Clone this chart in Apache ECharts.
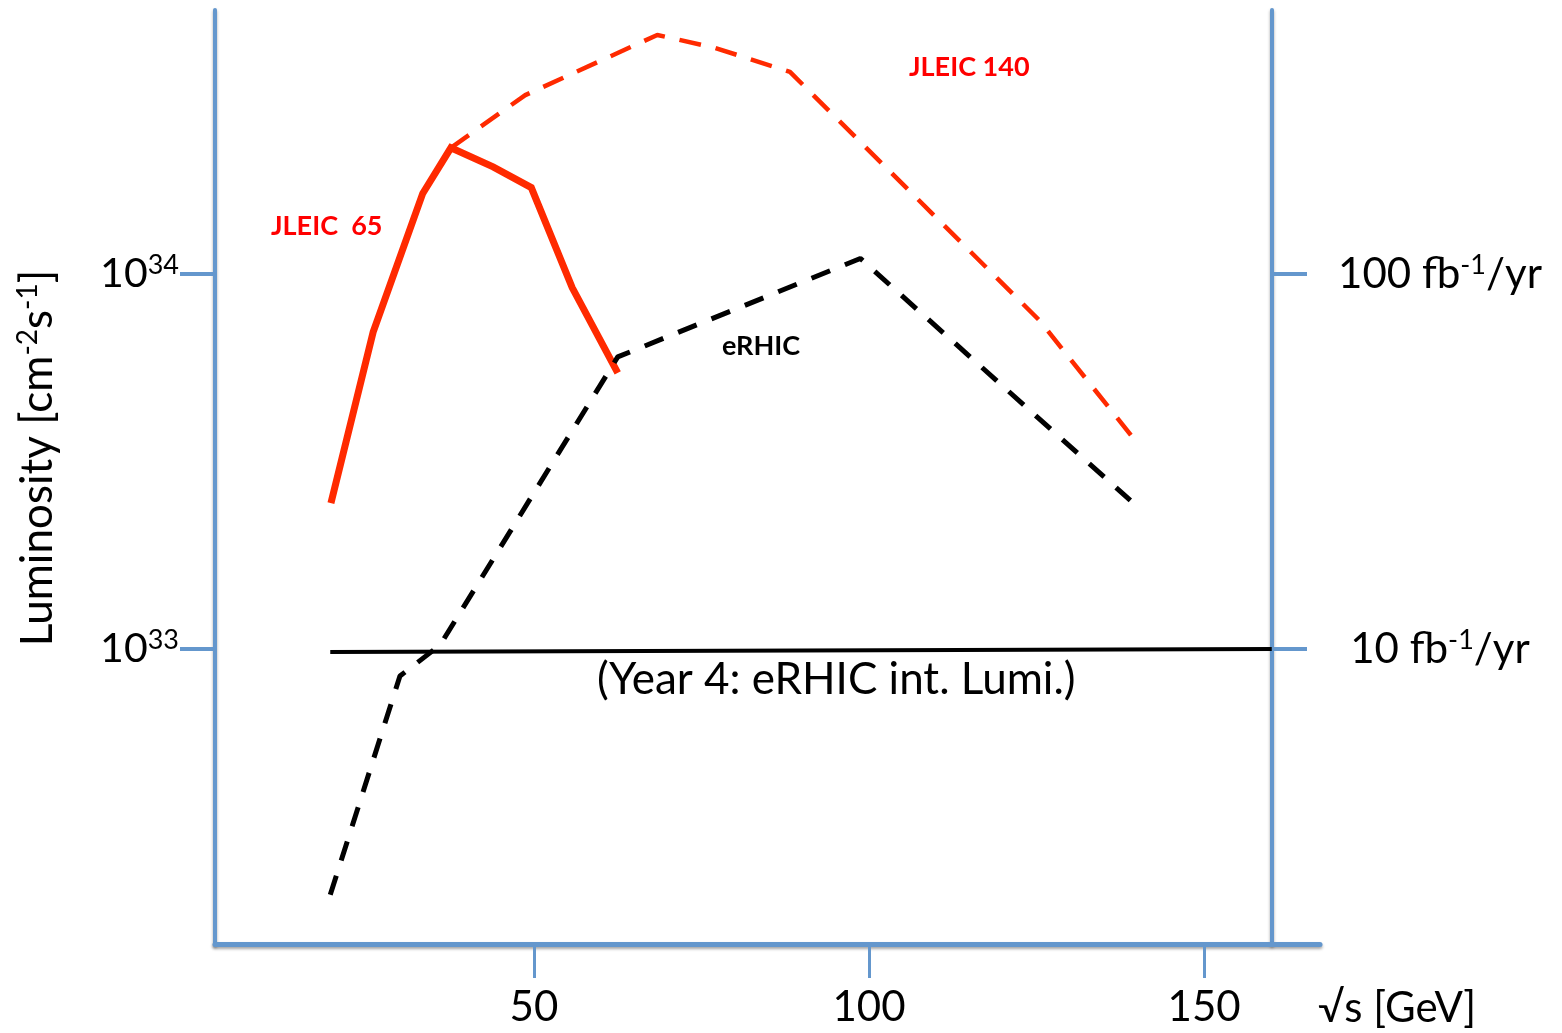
<!DOCTYPE html>
<html>
<head>
<meta charset="utf-8">
<script src="https://cdn.jsdelivr.net/npm/echarts@6/dist/echarts.min.js"></script>
<style>
html,body{margin:0;padding:0;background:#fff;}
#c{width:1562px;height:1033px;}
</style>
</head>
<body>
<div id="c"></div>
<script>
// ---- data (sqrt(s) in GeV, luminosity in cm^-2 s^-1) ----
const jleic65X  = [19.7, 26.0, 33.4, 37.6, 43.9, 49.6, 55.7, 62.5];
const jleic65Y  = [2.45e33, 7.0e33, 1.64e34, 2.17e34, 1.93e34, 1.70e34, 9.2e33, 5.45e33];

const jleic140X = [37.6, 48.7, 68.4, 77.0, 88.2, 125.5, 139.7];
const jleic140Y = [2.17e34, 3.0e34, 4.34e34, 4.01e34, 3.46e34, 7.5e33, 3.6e33];

const erhicX    = [19.6, 30.0, 36.0, 62.5, 98.7, 139.0];
const erhicY    = [2.21e32, 8.47e32, 1.025e33, 6.01e33, 1.10e34, 2.49e33];

const year4X    = [19.6, 160.1];
const year4Y    = [9.82e32, 1.0e33];

const xTickValues      = [50, 100, 150];
const yTickValues      = [1e33, 1e34];
const leftTickLabels   = {33: '10{sup|33}', 34: '10{sup|34}'};
const rightTickLabels  = {33: '10 fb{sup|-1}/yr', 34: '100 fb{sup|-1}/yr'};

const FONT = 'Lato, "Open Sans", sans-serif';
const BLUE = '#6497CD';
const RED_LINE = '#FF2A00';
const RED_TEXT = '#FF0000';

const zip = (xs, ys) => xs.map((x, i) => [x, ys[i]]);

const X_MIN = 2.4, X_MAX = 167.3, X_MAX_R = 160.1;
const Y_MIN = Math.pow(10, 32.2133), Y_MAX = Math.pow(10, 34.704);

const axisShadow = {shadowColor: 'rgba(0,0,0,0.35)', shadowBlur: 3, shadowOffsetY: 2};

const chart = echarts.init(document.getElementById('c'), null, {renderer: 'canvas'});
chart.setOption({
  animation: false,
  backgroundColor: '#fff',
  grid: [
    {left: 215, right: 242, top: 10, bottom: 89},
    {left: 215, right: 290, top: 10, bottom: 89}
  ],
  xAxis: [
    {
      type: 'value', gridIndex: 0, min: X_MIN, max: X_MAX,
      splitLine: {show: false},
      axisLine: {show: true, onZero: false, lineStyle: Object.assign({color: BLUE, width: 5}, axisShadow)},
      axisTick: {show: true, inside: false, length: 34, customValues: xTickValues,
                 lineStyle: {color: BLUE, width: 3}},
      axisLabel: {show: true, customValues: xTickValues, margin: 42,
                  fontFamily: FONT, fontSize: 42, color: '#000'}
    },
    {
      type: 'value', gridIndex: 1, min: X_MIN, max: X_MAX_R, show: false
    }
  ],
  yAxis: [
    {
      type: 'log', gridIndex: 0, position: 'left', min: Y_MIN, max: Y_MAX,
      splitLine: {show: false}, minorTick: {show: false},
      axisLine: {show: true, onZero: false, lineStyle: Object.assign({color: BLUE, width: 4}, axisShadow)},
      axisTick: {show: true, inside: false, length: 35, customValues: yTickValues,
                 lineStyle: {color: BLUE, width: 4}},
      axisLabel: {
        show: true, customValues: yTickValues, margin: 36,
        fontFamily: FONT, fontSize: 41, color: '#000',
        formatter: v => leftTickLabels[Math.round(Math.log10(v))],
        rich: {sup: {fontFamily: FONT, fontSize: 27, verticalAlign: 'top', padding: [0, 0, 18, 0], color: '#000'}}
      }
    },
    {
      type: 'log', gridIndex: 1, position: 'right', min: Y_MIN, max: Y_MAX,
      splitLine: {show: false}, minorTick: {show: false},
      axisLine: {show: true, onZero: false, lineStyle: Object.assign({color: BLUE, width: 4}, axisShadow)},
      axisTick: {show: true, inside: false, length: 35, customValues: yTickValues,
                 lineStyle: {color: BLUE, width: 4}},
      axisLabel: {
        show: true, customValues: yTickValues, margin: 168, align: 'center',
        fontFamily: FONT, fontSize: 42, color: '#000',
        formatter: v => rightTickLabels[Math.round(Math.log10(v))],
        rich: {sup: {fontFamily: FONT, fontSize: 27, verticalAlign: 'top', padding: [0, 0, 18, 0], color: '#000'}}
      }
    }
  ],
  series: [
    {
      name: 'Year 4', type: 'line', xAxisIndex: 0, yAxisIndex: 0, data: zip(year4X, year4Y),
      symbol: 'none', lineStyle: {color: '#000', width: 4}, z: 2
    },
    {
      name: 'JLEIC 140', type: 'line', xAxisIndex: 0, yAxisIndex: 0, data: zip(jleic140X, jleic140Y),
      symbol: 'none', lineStyle: {color: RED_LINE, width: 4.5, type: [22, 15]}, z: 3
    },
    {
      name: 'JLEIC 65', type: 'line', xAxisIndex: 0, yAxisIndex: 0, data: zip(jleic65X, jleic65Y),
      symbol: 'none', lineStyle: {color: RED_LINE, width: 7, join: 'miter'}, z: 4
    },
    {
      name: 'eRHIC', type: 'line', xAxisIndex: 0, yAxisIndex: 0, data: zip(erhicX, erhicY),
      symbol: 'none', lineStyle: {color: '#000', width: 5, type: [20, 16]}, z: 5
    }
  ],
  graphic: [
    {type: 'text', x: 38, y: 458, rotation: Math.PI / 2,
     style: {text: 'Luminosity [cm{sup|-2}s{sup|-1}]', x: 0, y: 0, align: 'center', verticalAlign: 'middle',
             fontFamily: FONT, fontSize: 44, fill: '#000',
             rich: {sup: {fontFamily: FONT, fontSize: 28, verticalAlign: 'top', padding: [0, 0, 20, 0], fill: '#000'}}}},
    {type: 'text', x: 909, y: 67,
     style: {text: 'JLEIC 140', align: 'left', verticalAlign: 'middle',
             fontFamily: FONT, fontWeight: 'bold', fontSize: 27, fill: RED_TEXT}},
    {type: 'text', x: 271, y: 226,
     style: {text: 'JLEIC  65', align: 'left', verticalAlign: 'middle',
             fontFamily: FONT, fontWeight: 'bold', fontSize: 27, fill: RED_TEXT}},
    {type: 'text', x: 722, y: 346,
     style: {text: 'eRHIC', align: 'left', verticalAlign: 'middle',
             fontFamily: FONT, fontWeight: 'bold', fontSize: 27, fill: '#000'}},
    {type: 'text', x: 597, y: 680,
     style: {text: '(Year 4: eRHIC int. Lumi.)', align: 'left', verticalAlign: 'middle',
             fontFamily: FONT, fontSize: 44, fill: '#000'}},
    {type: 'text', x: 1318, y: 1008,
     style: {text: '\u221As [GeV]', align: 'left', verticalAlign: 'middle',
             fontFamily: FONT, fontSize: 42, fill: '#000'}}
  ]
});
</script>
</body>
</html>
